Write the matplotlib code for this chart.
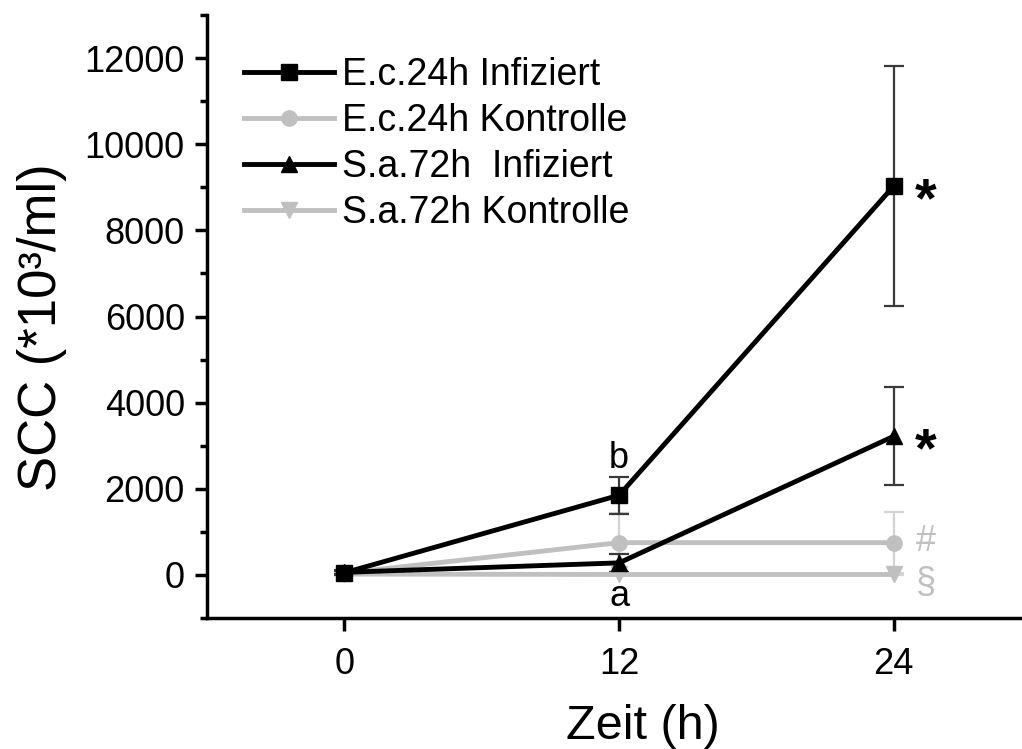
import numpy as np
import matplotlib.pyplot as plt
from matplotlib.ticker import MultipleLocator

plt.rcParams['font.family'] = ['Liberation Sans', 'DejaVu Sans']

# Zeitpunkte (h)
zeit = [0, 12, 24]

# SCC-Mittelwerte und Standardabweichungen (*10^3/ml)
ec_inf = [50, 1850, 9030]
ec_inf_sd = [40, 430, 2780]
ec_kon = [40, 750, 750]
ec_kon_sd = [30, 680, 700]
sa_inf = [60, 280, 3220]
sa_inf_sd = [60, 210, 1140]
sa_kon = [20, 10, 10]
sa_kon_sd = [20, 10, 10]

labels = ['E.c.24h Infiziert', 'E.c.24h Kontrolle',
          'S.a.72h  Infiziert', 'S.a.72h Kontrolle']

schwarz = 'black'
grau = '#c0c0c0'
err_dunkel = '#3a3a3a'
err_hell = '#d4d4d4'

fig = plt.figure(figsize=(10.22, 7.49), dpi=100)
ax = fig.add_axes([207 / 1022, 1 - 618 / 749, 1 - 207 / 1022, (618 - 15) / 749])

serien = [
    (ec_inf, ec_inf_sd, schwarz, err_dunkel, 's', labels[0], 4),
    (ec_kon, ec_kon_sd, grau, err_hell, 'o', labels[1], 3),
    (sa_inf, sa_inf_sd, schwarz, err_dunkel, '^', labels[2], 4),
    (sa_kon, sa_kon_sd, grau, err_hell, 'v', labels[3], 3),
]
for werte, sd, farbe, efarbe, marker, lab, z in serien:
    ax.errorbar(zeit, werte, yerr=sd, fmt='none', ecolor=efarbe,
                elinewidth=1.6, capsize=7, capthick=1.6, zorder=z - 1)
    ax.plot(zeit, werte, color=farbe, lw=3.5, marker=marker, ms=11,
            label=lab, zorder=z)

# Signifikanzzeichen
ax.text(25.4, ec_inf[2] - 380, '*', fontsize=40, fontweight='bold',
        ha='center', va='center')
ax.text(25.4, sa_inf[2] - 380, '*', fontsize=40, fontweight='bold',
        ha='center', va='center')
ax.text(12, ec_inf[1] + ec_inf_sd[1] + 20, 'b', fontsize=26,
        ha='center', va='bottom')
ax.text(12, -100, 'a', fontsize=26, ha='center', va='top')
ax.text(25.4, ec_kon[2] + 30, '#', fontsize=26, color=grau,
        ha='center', va='center')
ax.text(25.4, -200, '§', fontsize=26, color=grau,
        ha='center', va='center')

ax.set_xlim(-6, 29.6)
ax.set_ylim(-1000, 13000)
ax.set_xticks(zeit)
ax.yaxis.set_major_locator(MultipleLocator(2000))
ax.yaxis.set_minor_locator(MultipleLocator(1000))

for s in ['top', 'right']:
    ax.spines[s].set_visible(False)
for s in ['left', 'bottom']:
    ax.spines[s].set_linewidth(2.5)

ax.tick_params(axis='both', which='major', length=9, width=2.5,
               labelsize=26, direction='out', pad=7)
ax.tick_params(axis='x', which='major', pad=12)
ax.tick_params(axis='y', which='minor', length=5, width=2.5)

ax.set_xlabel('Zeit (h)', fontsize=35)
ax.set_ylabel('SCC (*10³/ml)', fontsize=38)
ax.xaxis.set_label_coords(0.535, -0.142)
ax.yaxis.set_label_coords(-0.172, 0.483)

ax.legend(loc='upper left', bbox_to_anchor=(0.018, 0.968), frameon=False,
          fontsize=27, handlelength=2.4, handletextpad=0.2,
          labelspacing=0.27, numpoints=1, borderaxespad=0.2)

fig.savefig('out.png', dpi=100)
